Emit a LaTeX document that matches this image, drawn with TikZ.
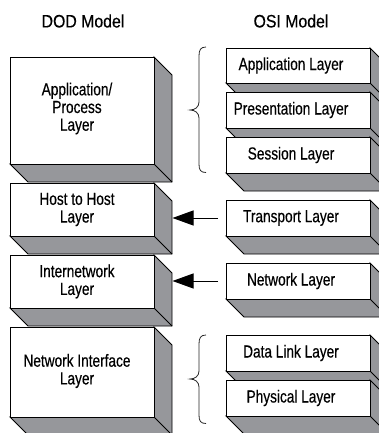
\documentclass[tikz,border=0pt]{standalone}
\usepackage{fontspec}
\setmainfont[FakeStretch=0.78,FakeBold=0.4]{Liberation Sans}
\newfontfamily\ttlfont[FakeStretch=0.88,FakeBold=0.4]{Liberation Sans}
\usetikzlibrary{arrows.meta,backgrounds}
\definecolor{sidegray}{RGB}{150,151,155}
\tikzset{
  face/.style={draw=black, fill=white, line width=0.9pt, minimum width=144pt,
    inner sep=0pt, outer sep=0pt, anchor=north west},
  lbl/.style={font=\fontsize{17.5}{17.7}\selectfont, align=center, inner sep=0pt},
  ttl/.style={font=\ttlfont\fontsize{18}{20}\selectfont, inner sep=0pt},
  arr/.style={line width=0.9pt, -{Triangle[length=21pt,width=15pt]}},
  brc/.style={line width=0.8pt, draw=black!85},
  slab/.style={fill=sidegray, draw=black, line width=0.9pt, line join=miter}
}
\newcommand\extrude[1]{%
  \begin{scope}[on background layer]
  \filldraw[slab] (#1.north east) -- ([shift={(18,18)}]#1.north east)
    -- ([shift={(18,18)}]#1.south east) -- ([shift={(18,18)}]#1.south west)
    -- (#1.south west) -- (#1.south east) -- cycle;
  \draw[line width=0.9pt] (#1.south east) -- ([shift={(18,18)}]#1.south east);
  \end{scope}}
\begin{document}
\begin{tikzpicture}[x=1pt,y=-1pt]
\useasboundingbox (0,0) rectangle (378,433);
\clip (0,0) rectangle (378,433);

% titles
\node[ttl] (dodT) at (83,21) {DOD Model};
\node[ttl] (osiTitle) at (291,21) {OSI Model};

% DOD model
\node[face, minimum height=107pt] (dodapp) at (10,57) {};
\extrude{dodapp}
\node[lbl] (dodappL) at (77,108.5) {Application/\\Process\\Layer};

\node[face, minimum height=53pt] (dodhost) at (10,183) {};
\extrude{dodhost}
\node[lbl] (dodhostL) at (77,209.5) {Host to Host\\Layer};

\node[face, minimum height=53pt] (dodinet) at (10,255) {};
\extrude{dodinet}
\node[lbl] (dodinetL) at (77,281.5) {Internetwork\\Layer};

\node[face, minimum height=90pt] (dodnet) at (10,327) {};
\extrude{dodnet}
\node[lbl] (dodnetL) at (77,371) {Network Interface\\Layer};

% OSI model
\node[face, minimum height=35pt] (osiA) at (226,48) {};
\extrude{osiA}
\node[lbl] (osiAL) at (291,65.5) {Application Layer};

\node[face, minimum height=36pt] (osiP) at (226,92) {};
\extrude{osiP}
\node[lbl] (osiPL) at (291,110) {Presentation Layer};

\node[face, minimum height=36pt] (osiS) at (226,137) {};
\extrude{osiS}
\node[lbl] (osiSL) at (291,155) {Session Layer};

\node[face, minimum height=36pt] (osiT) at (226,200) {};
\extrude{osiT}
\node[lbl] (osiTL) at (291,218) {Transport Layer};

\node[face, minimum height=36pt] (osiN) at (226,263) {};
\extrude{osiN}
\node[lbl] (osiNL) at (291,281) {Network Layer};

\node[face, minimum height=36pt] (osiD) at (226,335) {};
\extrude{osiD}
\node[lbl] (osiDL) at (291,353) {Data Link Layer};

\node[face, minimum height=36pt] (osiPh) at (226,380) {};
\extrude{osiPh}
\node[lbl] (osiPhL) at (291,398) {Physical Layer};

% arrows
\coordinate (hostR) at ([xshift=18.5pt]dodhost.east);
\coordinate (inetR) at ([xshift=18.5pt]dodinet.east);
\draw[arr] ([xshift=-8pt]osiT.west) -- (osiT.west -| hostR);
\draw[arr] ([xshift=-8pt]osiN.west) -- (osiN.west -| inetR);

% braces
\draw[brc] (206,47) .. controls (200.5,47) and (199,50) .. (199,56) -- (199,102)
  .. controls (199,107) and (195,110) .. (190,110)
  .. controls (195,110) and (199,113) .. (199,118) -- (199,164)
  .. controls (199,170) and (200.5,172.5) .. (206,172.5);
\draw[brc] (206,335) .. controls (200.5,335) and (199,338) .. (199,344) -- (199,371)
  .. controls (199,376) and (195,379) .. (190,379)
  .. controls (195,379) and (199,382) .. (199,387) -- (199,415)
  .. controls (199,421) and (200.5,423.5) .. (206,423.5);
\end{tikzpicture}
\end{document}
